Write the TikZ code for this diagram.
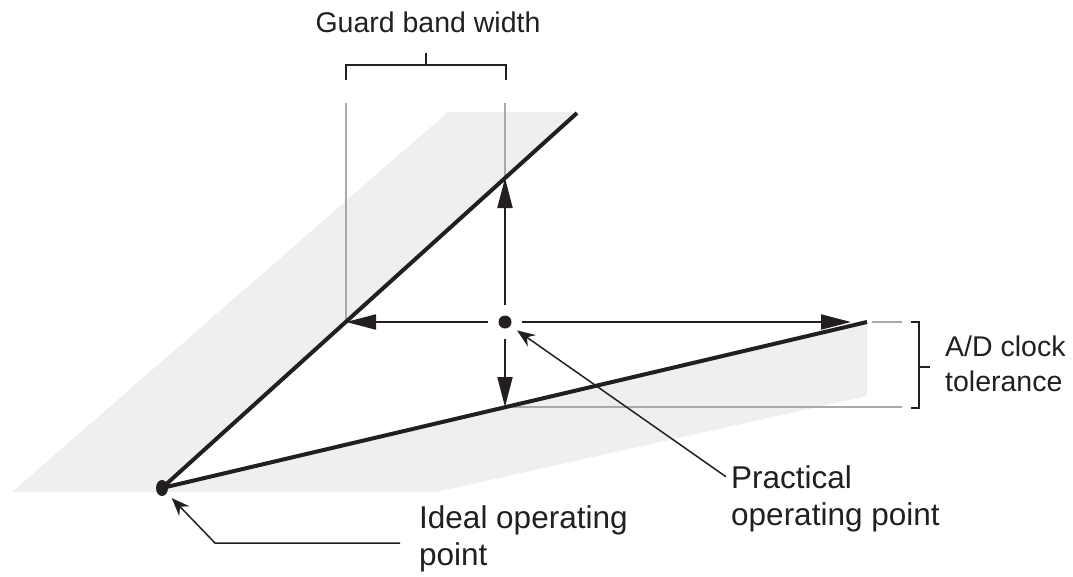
\documentclass[tikz,border=0pt]{standalone}
\usepackage{fontspec}
\setmainfont{Liberation Sans}
\usetikzlibrary{arrows.meta,shapes.geometric}
\definecolor{ink}{HTML}{231F20}
\definecolor{bandgray}{HTML}{EFEFEF}
\definecolor{guide}{HTML}{A7A9AC}

\begin{document}
\begin{tikzpicture}[x=1pt,y=-1pt,
  mainline/.style={ink, line width=4pt},
  dimarrow/.style={ink, line width=2pt, -{Triangle[length=30pt,width=15pt]}},
  leader/.style={ink, line width=1.5pt, -{Stealth[length=18pt,width=14pt,inset=6pt]}},
  guideline/.style={guide, line width=1.4pt},
  bracket/.style={ink, line width=1.8pt},
  lbl/.style={inner sep=0pt, anchor=base west, text=ink},
  bigfont/.style={font=\fontsize{31.5}{37}\selectfont},
  smallfont/.style={font=\fontsize{28.5}{34}\selectfont}]

\useasboundingbox (0,0) rectangle (1073,576);

% tolerance zone band
\fill[bandgray] (12,492) -- (448,112) -- (577,112) -- (162,488) -- (867,322)
  -- (867,396) -- (436,492) -- cycle;

% end points of the two operating lines and the arrow targets
\coordinate (U) at (577,113);
\coordinate (R) at (867,322);
\coordinate (tUp) at (505,178);
\coordinate (tLeft) at (346,322);
\coordinate (tRight) at (851,322);
\coordinate (tDown) at (505,407);

% grey guide lines
\coordinate (gL1) at (346,103);
\coordinate (gR1) at (505,103);
\coordinate (tolA) at (872,322);
\coordinate (tolB) at (902,322);
\coordinate (tolC) at (505,407);
\coordinate (tolD) at (902,407);
\draw[guideline] (gL1) -- (tLeft);
\draw[guideline] (gR1) -- (tUp);
\draw[guideline] (tolA) -- (tolB);
\draw[guideline] (tolC) -- (tolD);

% operating points
\node[ellipse, fill=ink, inner sep=0pt, minimum width=12pt, minimum height=16pt] (O) at (162,488) {};
\node[circle, fill=ink, inner sep=0pt, minimum size=13pt] (P) at (505,322) {};

% the two boundary lines
\draw[mainline] (O.center) -- (U);
\draw[mainline] (O.center) -- (R);

% dimension arrows from the practical point
\draw[dimarrow, shorten <=10pt] (P) -- (tUp);
\draw[dimarrow, shorten <=10pt] (P) -- (tLeft);
\draw[dimarrow, shorten <=10pt] (P) -- (tRight);
\draw[dimarrow, shorten <=10pt] (P) -- (tDown);

% guard band bracket
\coordinate (gb1) at (346,80);
\coordinate (gb2) at (346,65);
\coordinate (gb3) at (506,65);
\coordinate (gb4) at (506,80);
\coordinate (gbm) at (426,65);
\node[inner sep=0pt, anchor=base, text=ink, smallfont] (guard) at (428,32) {Guard band width};
\draw[bracket] (gb1) -- (gb2) -- (gb3) -- (gb4);
\draw[bracket] (gbm) -- ++(0,-12);

% clock tolerance bracket
\coordinate (cb1) at (911,322);
\coordinate (cb2) at (919,322);
\coordinate (cb3) at (919,408);
\coordinate (cb4) at (911,408);
\coordinate (cbm) at (919,367);
\draw[bracket] (cb1) -- (cb2) -- (cb3) -- (cb4);
\draw[bracket] (cbm) -- ++(11,0);
\node[lbl, smallfont] (tol1) at (945,356) {A/D clock};
\node[lbl, smallfont] (tol2) at (945,391) {tolerance};

% practical operating point label
\node[lbl, bigfont] (prac1) at (731,488) {Practical};
\node[lbl, bigfont] (prac2) at (731,525) {operating point};
\draw[leader, shorten >=8pt] ([xshift=-5pt]prac1.west) -- (P);

% ideal operating point label
\node[lbl, bigfont] (ideal1) at (419,528) {Ideal operating};
\node[lbl, bigfont] (ideal2) at (419,565) {point};
\coordinate (il1) at (400,543);
\coordinate (il2) at (215,543);
\draw[leader, shorten >=7pt] (il1) -- (il2) -- (O);
\end{tikzpicture}
\end{document}
